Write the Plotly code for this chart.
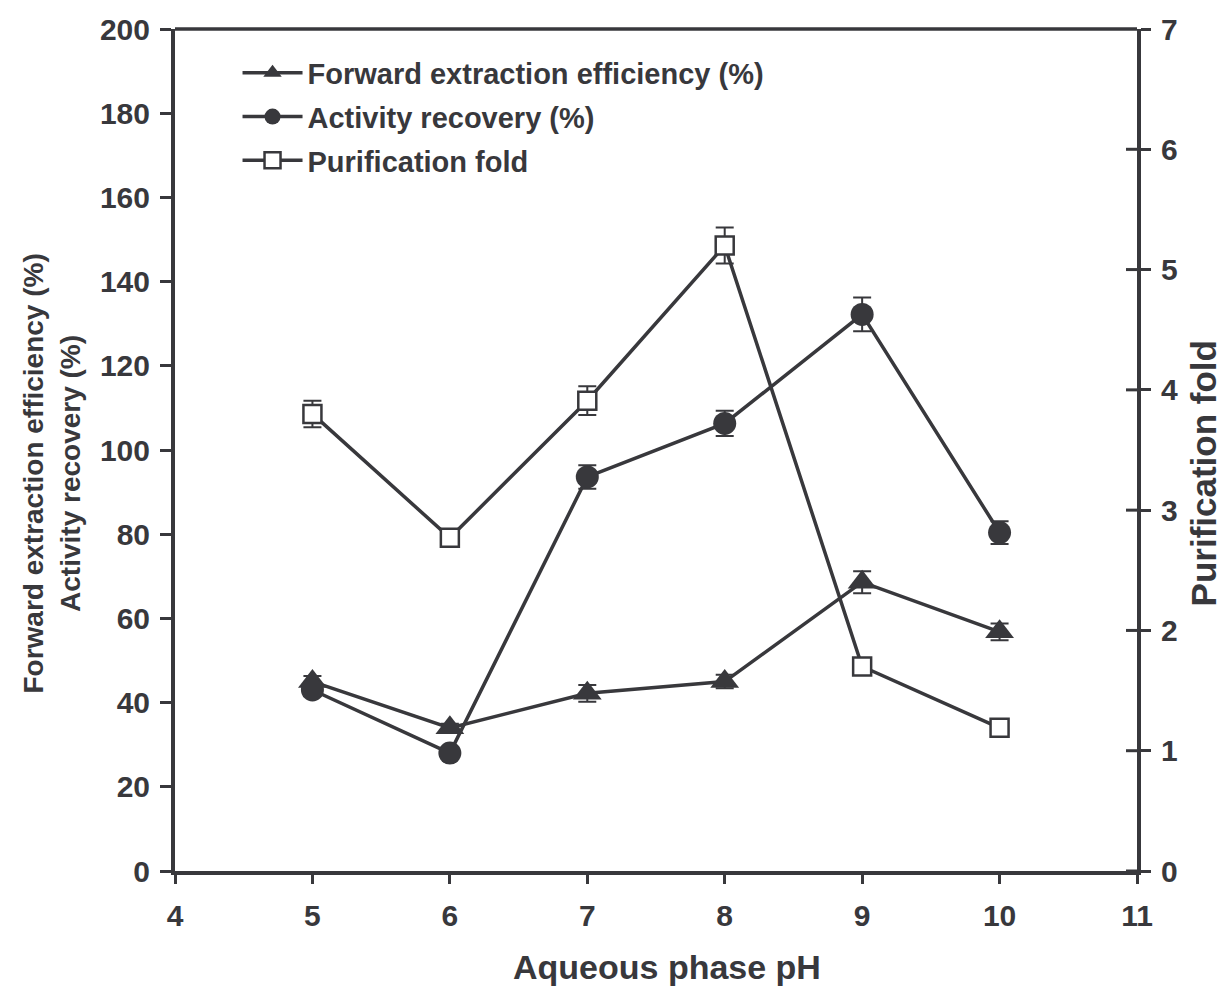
import plotly.graph_objects as go

# Aqueous phase pH
ph = [5, 6, 7, 8, 9, 10]

# Forward extraction efficiency (%) and its error
forward_eff = [45.0, 34.0, 42.2, 45.0, 68.6, 56.8]
forward_err = [1.3, 1.0, 2.0, 1.6, 2.6, 2.0]

# Activity recovery (%) and its error
activity_rec = [43.0, 28.0, 93.6, 106.3, 132.2, 80.4]
activity_err = [1.5, 1.0, 2.8, 3.0, 4.0, 2.7]

# Purification fold and its error
purif_fold = [3.80, 2.77, 3.91, 5.20, 1.70, 1.19]
purif_err = [0.11, 0.04, 0.12, 0.15, 0.04, 0.04]

x_ticks = [4, 5, 6, 7, 8, 9, 10, 11]
y_ticks = [0, 20, 40, 60, 80, 100, 120, 140, 160, 180, 200]
y2_ticks = [0, 1, 2, 3, 4, 5, 6, 7]

INK = "#38383c"
FONT = "Liberation Sans, Arial, sans-serif"

fig = go.Figure()

fig.add_trace(go.Scatter(
    x=ph, y=forward_eff, name="<b>Forward extraction efficiency (%)</b>",
    legendgroup="a", mode="lines+markers",
    line=dict(color=INK, width=3.5),
    marker=dict(symbol="triangle-up", size=25, color=INK),
    error_y=dict(type="data", array=forward_err, color=INK, thickness=2, width=9),
))

fig.add_trace(go.Scatter(
    x=ph, y=activity_rec, name="<b>Activity recovery (%)</b>",
    legendgroup="b", mode="lines+markers",
    line=dict(color=INK, width=3.5),
    marker=dict(symbol="circle", size=23, color=INK),
    error_y=dict(type="data", array=activity_err, color=INK, thickness=2, width=9),
))

fig.add_trace(go.Scatter(
    x=ph, y=purif_fold, name="<b>Purification fold</b>", yaxis="y2",
    legendgroup="c", mode="lines+markers",
    line=dict(color=INK, width=3.5),
    marker=dict(symbol="square", size=18, color="white",
                line=dict(color=INK, width=2.5)),
    error_y=dict(type="data", array=purif_err, color=INK, thickness=2, width=9),
))

axis_font = dict(family=FONT, size=30, color=INK)

fig.update_layout(
    width=1227, height=987,
    margin=dict(l=175, r=90, t=24, b=116),
    plot_bgcolor="white", paper_bgcolor="white",
    font=dict(family=FONT, color=INK),
    showlegend=True,
    legend=dict(
        x=0.065, y=0.978, xanchor="left", yanchor="top",
        bgcolor="rgba(0,0,0,0)",
        font=dict(family=FONT, size=29, color=INK),
        itemwidth=60, tracegroupgap=3,
    ),
    xaxis=dict(
        range=[4, 11], tickvals=x_ticks,
        ticktext=[f"<b>{v}</b>" for v in x_ticks],
        tickfont=axis_font, ticks="outside", ticklen=9, tickwidth=3,
        ticklabelstandoff=6,
        tickcolor=INK, showline=True, linecolor=INK, linewidth=4,
        showgrid=False, zeroline=False,
    ),
    yaxis=dict(
        range=[0, 200], tickvals=y_ticks,
        ticktext=[f"<b>{v}</b>" for v in y_ticks],
        tickfont=axis_font, ticks="outside", ticklen=11, tickwidth=3,
        ticklabelstandoff=4,
        tickcolor=INK, showline=True, linecolor=INK, linewidth=4,
        showgrid=False, zeroline=False,
    ),
    yaxis2=dict(
        range=[0, 7], tickvals=y2_ticks,
        ticktext=[f"<b>{v}</b>" for v in y2_ticks],
        overlaying="y", side="right",
        tickfont=axis_font, ticks="outside", ticklen=10, tickwidth=3,
        ticklabelstandoff=4,
        tickcolor=INK, showline=True, linecolor=INK, linewidth=4,
        showgrid=False, zeroline=False,
    ),
)

# Top frame line of the plotting area
fig.add_shape(type="line", xref="paper", yref="paper", x0=0, x1=1, y0=1, y1=1,
              line=dict(color=INK, width=3.5))

# Inner half of the cross ticks on the right-hand axis
for v in y2_ticks[:-1]:
    fig.add_shape(type="line", xref="paper", yref="y2",
                  x0=1 - 11 / 962, x1=1, y0=v, y1=v,
                  line=dict(color=INK, width=3))

# Axis titles
fig.add_annotation(
    text="<b>Aqueous phase pH</b>", xref="paper", yref="paper",
    x=0.511, y=-0.1145, xanchor="center", yanchor="middle", showarrow=False,
    font=dict(family=FONT, size=34, color=INK),
)
fig.add_annotation(
    text="<b>Forward extraction efficiency (%)<br>Activity recovery (%)</b>",
    xref="paper", yref="paper", x=0, y=0.472, xshift=-123,
    xanchor="center", yanchor="middle", textangle=-90, showarrow=False,
    font=dict(family=FONT, size=28, color=INK),
)
fig.add_annotation(
    text="<b>Purification fold</b>", xref="paper", yref="paper",
    x=1.0695, y=0.472, xanchor="center", yanchor="middle", textangle=-90,
    showarrow=False, font=dict(family=FONT, size=35, color=INK),
)

fig.write_html("out.html")
